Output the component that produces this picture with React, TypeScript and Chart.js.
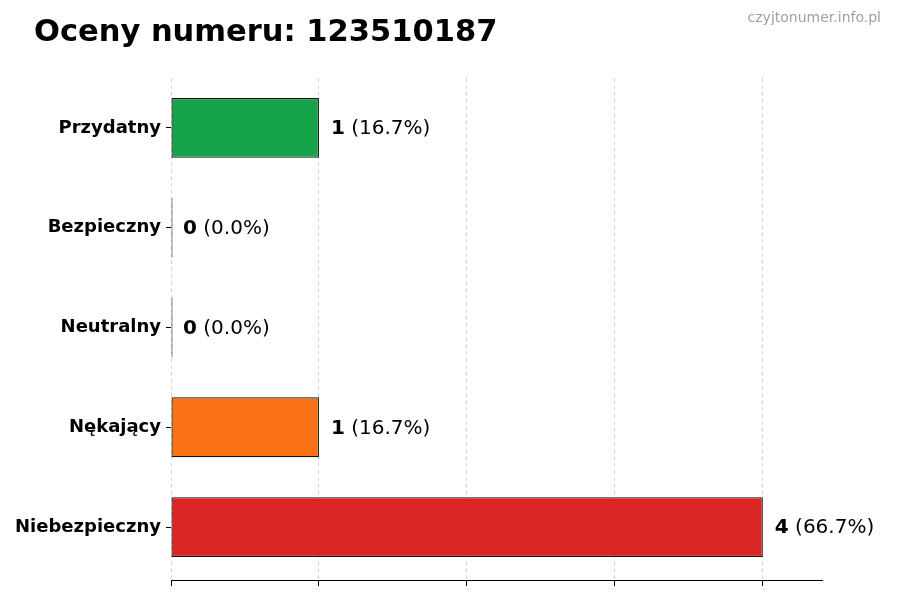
import { useEffect, useRef } from 'react'
import { Chart, registerables } from 'chart.js'

Chart.register(...registerables)

const categories = ['Przydatny', 'Bezpieczny', 'Neutralny', 'Nękający', 'Niebezpieczny']
const counts = [1, 0, 0, 1, 4]
const barColors = ['#16a34a', '#1f2937', '#1f2937', '#f97316', '#dc2626']
const xTicks = [0, 1, 2, 3, 4]

const FONT = "'DejaVu Sans', sans-serif"

const total = counts.reduce((a, b) => a + b, 0)

const labelsPlugin = {
  id: 'labels',
  afterDraw(chart: Chart) {
    const ctx = chart.ctx
    ctx.save()
    // title + watermark
    ctx.fillStyle = '#000'
    ctx.font = `bold 30.5px ${FONT}`
    ctx.textBaseline = 'alphabetic'
    ctx.textAlign = 'left'
    ctx.fillText('Oceny numeru: 123510187', 34, 41)
    ctx.fillStyle = '#a0a0a0'
    ctx.font = `14px ${FONT}`
    ctx.textAlign = 'right'
    ctx.fillText('czyjtonumer.info.pl', 881, 22)

    // value labels
    const meta = chart.getDatasetMeta(0)
    ctx.textBaseline = 'middle'
    ctx.textAlign = 'left'
    meta.data.forEach((bar: any, i: number) => {
      const v = counts[i]
      const pct = total ? (v / total) * 100 : 0
      const x0 = chart.scales.x.getPixelForValue(v) + 12
      const y = bar.y + 1
      ctx.fillStyle = '#000'
      ctx.font = `bold 20px ${FONT}`
      const s1 = String(v)
      ctx.fillText(s1, x0, y)
      const w = ctx.measureText(s1).width
      ctx.font = `20px ${FONT}`
      ctx.fillText(` (${pct.toFixed(1)}%)`, x0 + w, y)
    })
    ctx.restore()
  },
}

const App = () => {
  const chartRef = useRef<HTMLCanvasElement>(null)
  const chartInstance = useRef<Chart | null>(null)

  useEffect(() => {
    if (!chartRef.current) return
    if (chartInstance.current) chartInstance.current.destroy()
    chartInstance.current = new Chart(chartRef.current, {
      type: 'bar',
      data: {
        labels: categories,
        datasets: [{
          data: counts,
          backgroundColor: barColors,
          borderColor: '#111',
          borderWidth: 1.2,
          borderSkipped: false,
          barPercentage: 0.6,
          categoryPercentage: 1,
          minBarLength: 1.5,
        }],
      },
      options: {
        indexAxis: 'y',
        animation: false,
        responsive: false,
        maintainAspectRatio: false,
        layout: { padding: { left: 0, top: 78, right: 78, bottom: 0 } },
        plugins: { legend: { display: false }, tooltip: { enabled: false }, title: { display: false } },
        scales: {
          x: {
            min: 0, max: 4.4,
            z: 1,
            afterFit: (s: any) => { s.height = 20 },
            afterBuildTicks: (s: any) => { s.ticks = xTicks.map((v) => ({ value: v })) },
            ticks: { display: false },
            grid: { color: '#d4d4d4', lineWidth: 1, tickColor: '#000', tickLength: 6, tickBorderDash: [] },
            border: { display: true, color: '#000', width: 1, dash: [4, 3] },
          },
          y: {
            afterFit: (s: any) => { s.width = 171 },
            // a little extra room below the last band, as in the reference
            afterBuildTicks: (s: any) => { s._valueRange = 5.03 },
            ticks: { color: '#000', font: { family: FONT, size: 18, weight: 'bold' }, padding: 5 },
            grid: { drawOnChartArea: false, offset: false, tickColor: '#000', tickLength: 5 },
            border: { display: false },
          },
        },
      },
      plugins: [labelsPlugin],
    })
    return () => { chartInstance.current?.destroy() }
  }, [])

  return (
    <div style={{ position: 'absolute', left: 0, top: 0, width: 900, height: 600, background: '#fff' }}>
      <canvas ref={chartRef} width={900} height={600} style={{ width: 900, height: 600 }} />
    </div>
  )
}

export default App
